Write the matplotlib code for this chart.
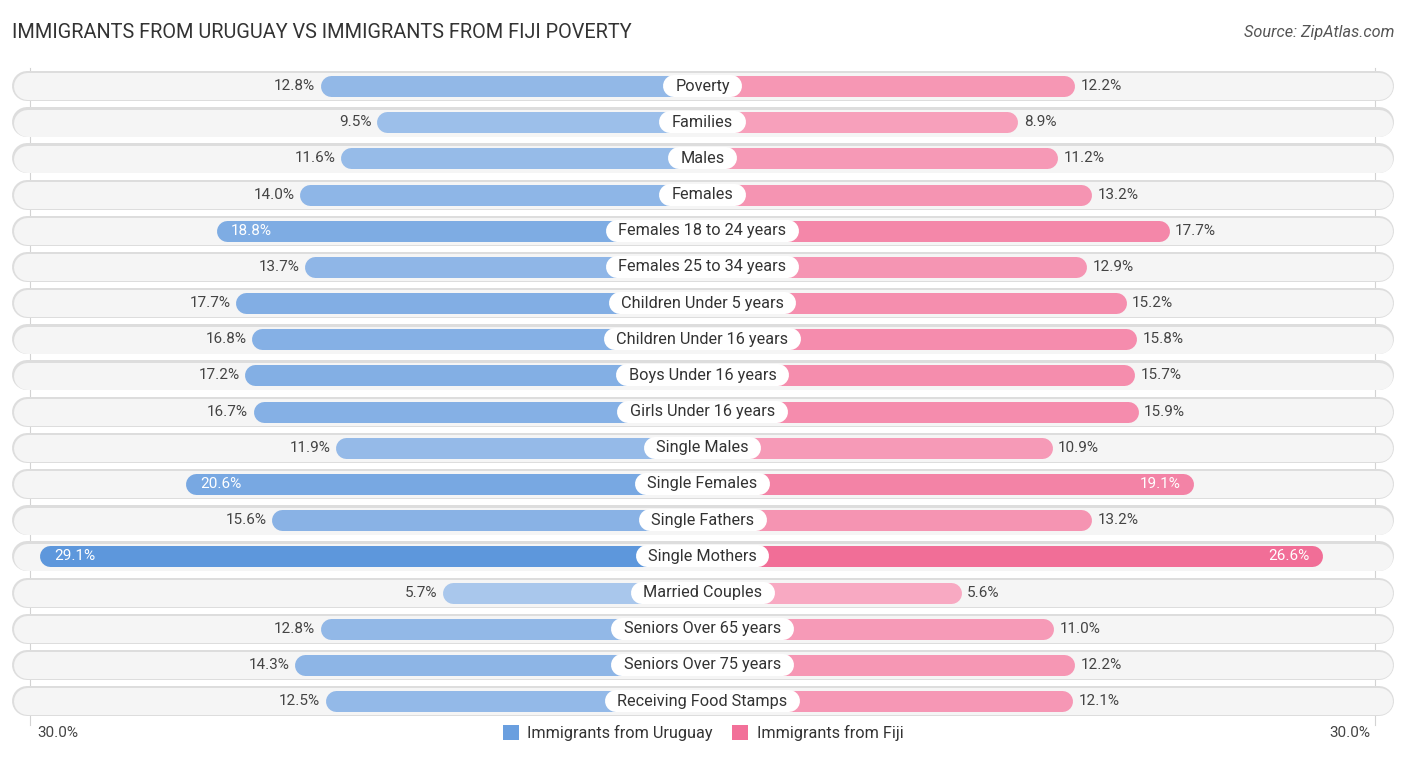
import matplotlib.pyplot as plt
from matplotlib.patches import Patch
from matplotlib.colors import to_rgb

plt.rcParams['font.family'] = ['Roboto', 'DejaVu Sans']

categories = ['Poverty', 'Families', 'Males', 'Females', 'Females 18 to 24 years',
              'Females 25 to 34 years', 'Children Under 5 years', 'Children Under 16 years',
              'Boys Under 16 years', 'Girls Under 16 years', 'Single Males', 'Single Females',
              'Single Fathers', 'Single Mothers', 'Married Couples', 'Seniors Over 65 years',
              'Seniors Over 75 years', 'Receiving Food Stamps']
uruguay = [12.8, 9.5, 11.6, 14.0, 18.8, 13.7, 17.7, 16.8, 17.2, 16.7, 11.9, 20.6,
           15.6, 29.1, 5.7, 12.8, 14.3, 12.5]
fiji = [12.2, 8.9, 11.2, 13.2, 17.7, 12.9, 15.2, 15.8, 15.7, 15.9, 10.9, 19.1,
        13.2, 26.6, 5.6, 11.0, 12.2, 12.1]
series_names = ['Immigrants from Uruguay', 'Immigrants from Fiji']
axis_max = 30.0

# layout (pixel based)
W, H = 1406, 758
CX = 702.5          # centre line
PX = 17.2           # pixels per percent
OFFSET = 9.43       # bars start under the label, extra length in %
ROW0, ROWSTEP = 86, 36.18
BAR_PX, BG_PX, LBL_PX = 21, 29, 22
BG_HALF = 690.5 / PX
GRID_X = 672.5 / PX
INSIDE = 18.0

blue_light, blue_dark = to_rgb('#abc8ed'), to_rgb('#5a95db')
pink_light, pink_dark = to_rgb('#f8abc3'), to_rgb('#f06490')


def shade(lo, hi, v):
    t = min(max((v - 5) / 25.0, 0), 1)
    return tuple(a + (b - a) * t for a, b in zip(lo, hi))


fig = plt.figure(figsize=(W / 100, H / 100), dpi=100)
ax = fig.add_axes([0, 0, 1, 1])
ax.set_xlim(-CX / PX, (W - CX) / PX)
ax.set_ylim((H - ROW0) / ROWSTEP, -ROW0 / ROWSTEP)
ax.axis('off')
renderer = fig.canvas.get_renderer()

pt = 0.72
r_bar = BAR_PX / 2 / PX
r_bg = BG_PX / 2 / PX
r_lbl = LBL_PX / 2 / PX

for gx in (-GRID_X, GRID_X):
    ax.plot([gx, gx], [-0.5, len(categories) - 0.35], color='#d3d3d3', lw=0.8, zorder=0)

for i, (cat, u, f) in enumerate(zip(categories, uruguay, fiji)):
    # row background pill
    ax.plot([-BG_HALF + r_bg, BG_HALF - r_bg], [i, i], color='#dddddd',
            lw=(BG_PX + 1) * pt, solid_capstyle='round', zorder=1)
    ax.plot([-BG_HALF + r_bg, BG_HALF - r_bg], [i + 0.01, i + 0.01], color='#f5f5f5',
            lw=(BG_PX - 2) * pt, solid_capstyle='round', zorder=1)

    lu = u + OFFSET
    lf = f + OFFSET
    ax.plot([-r_bar, -lu + r_bar], [i, i], color=shade(blue_light, blue_dark, u),
            lw=BAR_PX * pt, solid_capstyle='round', zorder=2)
    ax.plot([r_bar, lf - r_bar], [i, i], color=shade(pink_light, pink_dark, f),
            lw=BAR_PX * pt, solid_capstyle='round', zorder=2)

    if u >= INSIDE:
        ax.text(-lu + 14 / PX, i, f'{u:.1f}%', ha='left', va='center',
                fontsize=11, color='white', zorder=4)
    else:
        ax.text(-lu - 5 / PX, i, f'{u:.1f}%', ha='right', va='center',
                fontsize=11, color='#444444', zorder=4)
    if f >= INSIDE:
        ax.text(lf - 13 / PX, i, f'{f:.1f}%', ha='right', va='center',
                fontsize=11, color='white', zorder=4)
    else:
        ax.text(lf + 6 / PX, i, f'{f:.1f}%', ha='left', va='center',
                fontsize=11, color='#444444', zorder=4)

    t = ax.text(0, i, cat, ha='center', va='center', fontsize=11.7, color='#333333',
                zorder=6)
    half = t.get_window_extent(renderer).width / 2 / PX + 12.5 / PX
    ax.plot([-half + r_lbl, half - r_lbl], [i, i], color='white',
            lw=LBL_PX * pt, solid_capstyle='round', zorder=5)

fig.text(12 / W, 1 - 33 / H, 'IMMIGRANTS FROM URUGUAY VS IMMIGRANTS FROM FIJI POVERTY',
         ha='left', va='center', fontsize=14.3, color='#333333')
fig.text(1394 / W, 1 - 33 / H, 'Source: ZipAtlas.com', ha='right', va='center',
         fontsize=11.7, color='#555555', style='italic')

fig.text(37 / W, 1 - 733 / H, f'{axis_max:.1f}%', ha='left', va='center',
         fontsize=11, color='#444444')
fig.text(1370 / W, 1 - 733 / H, f'{axis_max:.1f}%', ha='right', va='center',
         fontsize=11, color='#444444')

handles = [Patch(facecolor='#6a9fdf', edgecolor='none'),
           Patch(facecolor='#f27099', edgecolor='none')]
fig.legend(handles, series_names, loc='center', bbox_to_anchor=(0.5, 1 - 733 / H),
           ncol=2, frameon=False, fontsize=11.7, handlelength=1.0, handleheight=1.0,
           columnspacing=1.2, handletextpad=0.5, labelcolor='#333333')

fig.savefig('out.png', dpi=100)
